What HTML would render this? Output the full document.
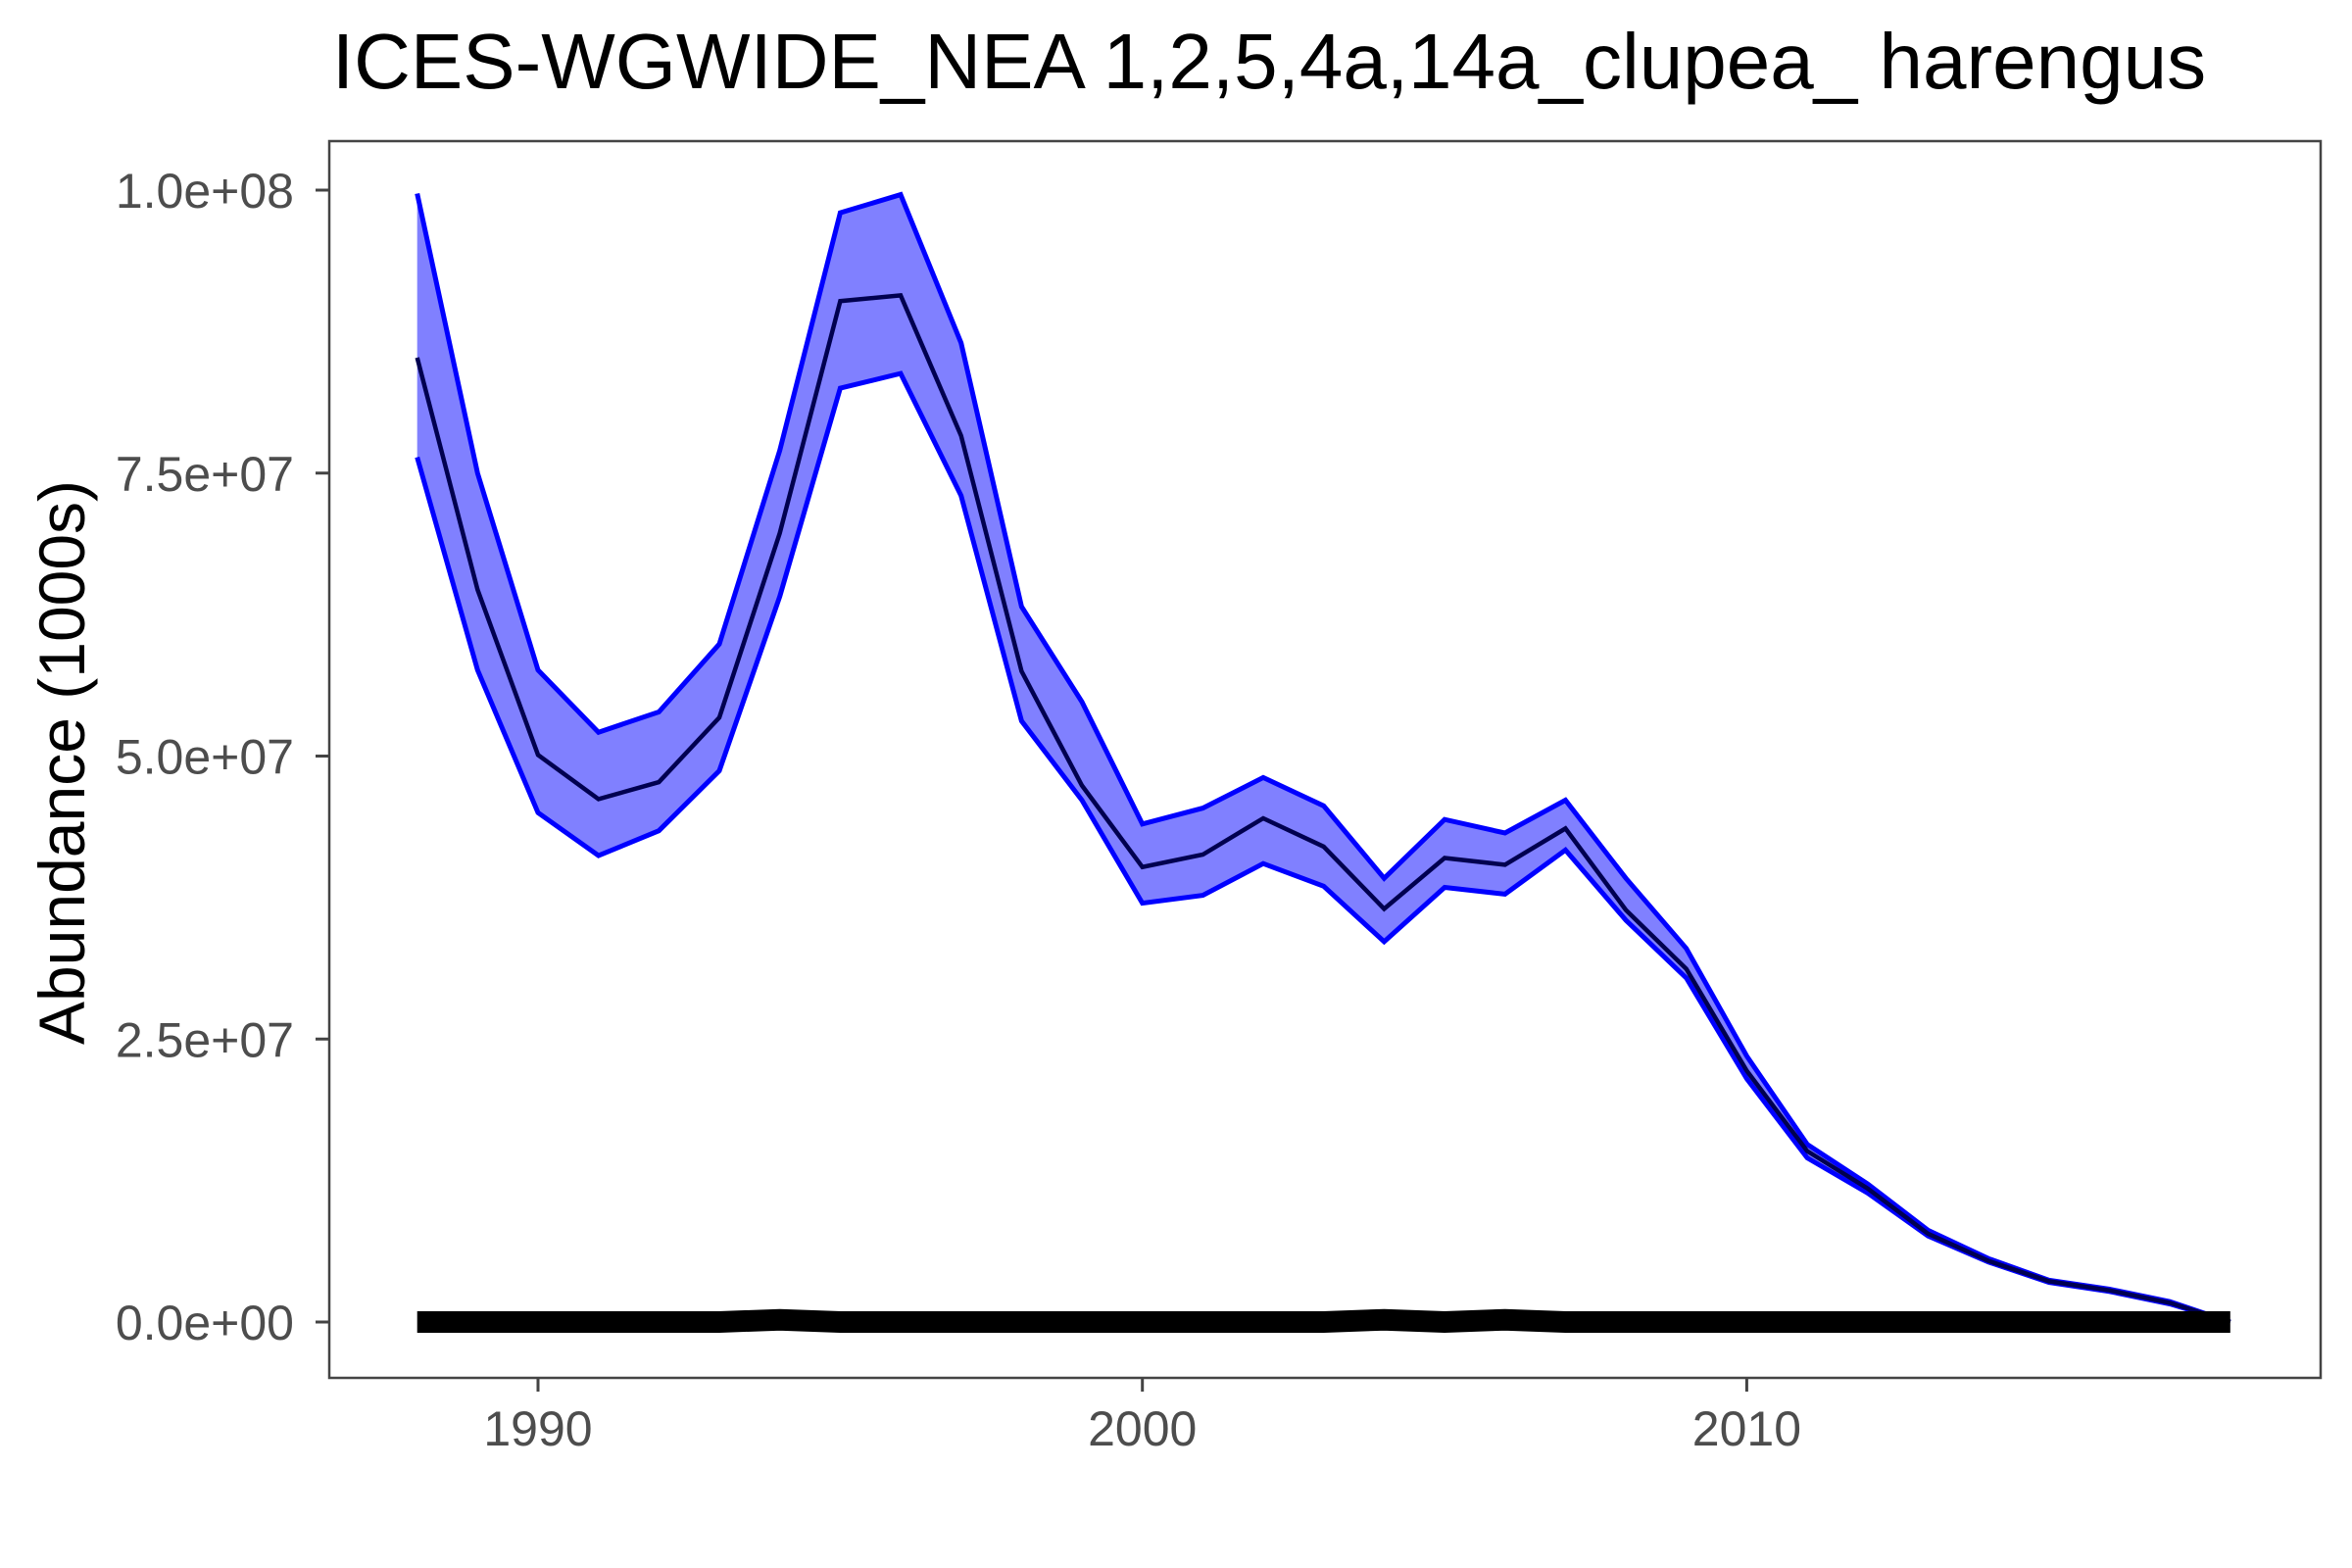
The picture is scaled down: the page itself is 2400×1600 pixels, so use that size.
<!DOCTYPE html>
<html><head><meta charset="utf-8"><style>
html,body{margin:0;padding:0;background:#fff;}
svg{display:block;font-family:"Liberation Sans",Arial,sans-serif;}
</style></head><body>
<svg id="chart" width="2400" height="1600" viewBox="0 0 2400 1600" xmlns="http://www.w3.org/2000/svg">
<rect x="0" y="0" width="2400" height="1600" fill="#fff"/>
<text x="1295" y="90" font-size="80" text-anchor="middle" fill="#000">ICES-WGWIDE_NEA 1,2,5,4a,14a_clupea_ harengus</text>
<text transform="translate(86,778) rotate(-90)" font-size="66" text-anchor="middle" fill="#000">Abundance (1000s)</text>
<g id="plot"></g>
<rect x="336" y="144" width="2032" height="1262" fill="none" stroke="#444" stroke-width="2.5"/>
</svg>
<script>
const years = [1988,1989,1990,1991,1992,1993,1994,1995,1996,1997,1998,1999,2000,2001,2002,2003,2004,2005,2006,2007,2008,2009,2010,2011,2012,2013,2014,2015,2016,2017,2018];
const meanM = [85.2,64.7,50.1,46.2,47.7,53.4,69.7,90.2,90.7,78.3,57.5,47.4,40.2,41.3,44.5,42.0,36.5,41.0,40.4,43.6,36.4,31.2,22.2,15.1,11.8,7.8,5.4,3.6,2.8,1.7,0];
const upperM = [99.7,75.0,57.6,52.1,53.9,59.9,77.0,98.0,99.6,86.5,63.2,54.8,44.0,45.4,48.1,45.6,39.2,44.4,43.2,46.1,39.2,33.0,23.5,15.7,12.2,8.1,5.6,3.7,2.9,1.8,0];
const lowerM = [76.4,57.6,45.0,41.2,43.4,48.7,64.1,82.5,83.8,73.0,53.1,46.1,37.0,37.7,40.5,38.5,33.6,38.4,37.8,41.7,35.5,30.4,21.5,14.5,11.4,7.6,5.3,3.5,2.7,1.6,0];
const catchM = [0,0,0,0,0,0,0.2,0,0,0,0,0,0,0,0,0,0.2,0,0.2,0,0,0,0,0,0,0,0,0,0,0,0];
const yTicks = [0,25,50,75,100];
const yTickLabels = ["0.0e+00","2.5e+07","5.0e+07","7.5e+07","1.0e+08"];
const xTicks = [1990,2000,2010];

const NS="http://www.w3.org/2000/svg";
const g=document.getElementById('plot');
function xs(v){return 549+(v-1990)*61.67;}
function ys(v){return 1349-v*11.55;}
function mk(tag,attrs){const e=document.createElementNS(NS,tag);for(const k in attrs)e.setAttribute(k,attrs[k]);return e;}
function pts(arr){return arr.map((v,i)=>xs(years[i]).toFixed(1)+','+ys(v).toFixed(1));}

const ribbon=mk('polygon',{points:pts(upperM).concat(pts(lowerM).reverse()).join(' '),fill:'#8080ff'});


g.appendChild(ribbon);
const up=mk('polyline',{points:pts(upperM).join(' '),fill:'none',stroke:'#0000ff','stroke-width':5});


g.appendChild(up);
const lo=mk('polyline',{points:pts(lowerM).join(' '),fill:'none',stroke:'#0000ff','stroke-width':5});


g.appendChild(lo);
const mn=mk('polyline',{points:pts(meanM).join(' '),fill:'none',stroke:'#000050','stroke-width':4.5});


g.appendChild(mn);
const ct=mk('polyline',{points:pts(catchM).join(' '),fill:'none',stroke:'#000','stroke-width':22,'stroke-linejoin':'miter'});


g.appendChild(ct);

yTicks.forEach((v,i)=>{
  const t=mk('line',{x1:322,x2:336,y1:ys(v),y2:ys(v),stroke:'#444','stroke-width':3});
  
  
  g.appendChild(t);
  const l=mk('text',{x:300,y:ys(v)+18,'font-size':50,'text-anchor':'end',fill:'#4d4d4d'});
  l.textContent=yTickLabels[i];
  
  
  g.appendChild(l);
});
xTicks.forEach(v=>{
  const t=mk('line',{x1:xs(v),x2:xs(v),y1:1406,y2:1420,stroke:'#444','stroke-width':3});
  
  
  g.appendChild(t);
  const l=mk('text',{x:xs(v),y:1475,'font-size':50,'text-anchor':'middle',fill:'#4d4d4d'});
  l.textContent=String(v);
  
  
  g.appendChild(l);
});
</script>
</body></html>
